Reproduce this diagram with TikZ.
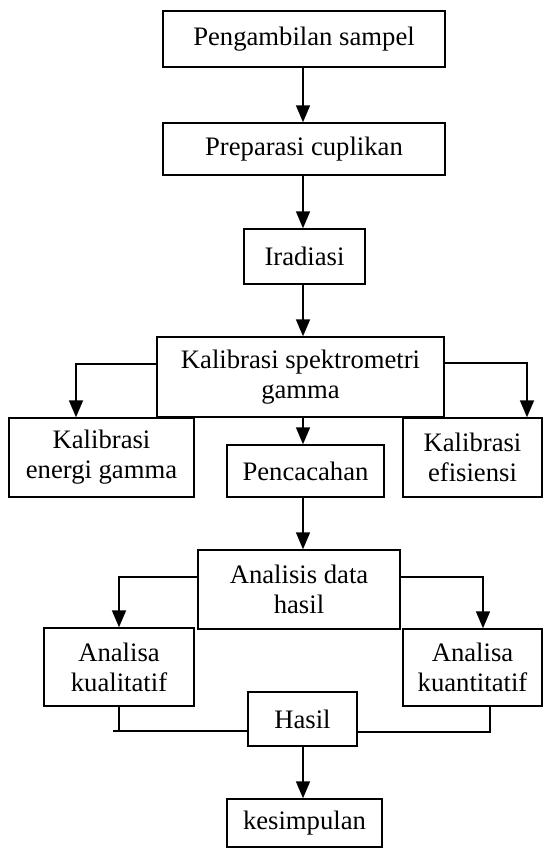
\documentclass[tikz,border=0pt]{standalone}
\usepackage{fontspec}
\setmainfont{Liberation Serif}
\usetikzlibrary{arrows.meta}
\begin{document}
\begin{tikzpicture}[x=0.75pt,y=-0.75pt,
  box/.style={draw,line width=1.1pt,align=center,inner sep=0pt,
    font=\fontsize{20}{22.5}\selectfont},
  arr/.style={line width=1.3pt,-{Triangle[length=12.75pt,width=10.5pt]}},
  ln/.style={line width=1.3pt}]
\useasboundingbox (0,0) rectangle (544,849);
\node[box,minimum width=211.5pt,minimum height=42pt] (p1) at (304,39) {Pengambilan sampel};
\node[box,minimum width=211.5pt,minimum height=39pt] (p2) at (304,149) {Preparasi cuplikan};
\node[box,minimum width=90.75pt,minimum height=41.25pt] (irad) at (304.5,256.5) {Iradiasi};
\node[box,minimum width=215.25pt,minimum height=60pt] (kspek) at (300.5,377) {Kalibrasi spektrometri\\gamma};
\node[box,minimum width=138.75pt,minimum height=59.25pt] (kener) at (101.5,457.5) {Kalibrasi\\energi gamma};
\node[box,minimum width=117.75pt,minimum height=39pt] (pcc) at (305.5,471) {Pencacahan};
\node[box,minimum width=104.25pt,minimum height=59.25pt] (kefi) at (472.5,457.5) {Kalibrasi\\efisiensi};
\node[box,minimum width=151.5pt,minimum height=59.25pt] (anl) at (299,589.5) {Analisis data\\hasil};
\node[box,minimum width=112.5pt,minimum height=58.5pt] (kual) at (119,667) {Analisa\\kualitatif};
\node[box,minimum width=104.25pt,minimum height=57.75pt] (kuan) at (472.5,667.5) {Analisa\\kuantitatif};
\node[box,minimum width=81.75pt,minimum height=40.5pt] (hasil) at (302.5,719) {Hasil};
\node[box,minimum width=116.25pt,minimum height=36pt] (kes) at (304.5,823) {kesimpulan};
% helper coordinates
\coordinate (cx) at (303,0);
\coordinate (kL) at (76,364);
\coordinate (kR) at (527,363);
\coordinate (aL) at (119,577);
\coordinate (aR) at (483,577);
\coordinate (hL) at (119,731);
\coordinate (hL0) at (113,731);
\coordinate (hR) at (490,732);
% connectors
\draw[arr] (p1.south -| cx) -- (p2.north -| cx);
\draw[arr] (p2.south -| cx) -- (irad.north -| cx);
\draw[arr] (irad.south -| cx) -- (kspek.north -| cx);
\draw[arr] (kspek.west |- kL) -| (kener.north -| kL);
\draw[arr] (kspek.east |- kR) -| (kefi.north -| kR);
\draw[arr] (kspek.south -| cx) -- (pcc.north -| cx);
\draw[arr] (pcc.south -| cx) -- (anl.north -| cx);
\draw[arr] (anl.west |- aL) -| (kual.north -| aL);
\draw[arr] (anl.east |- aR) -| (kuan.north -| aR);
\draw[ln] (kual.south -| hL) -- (hL);
\draw[ln] (hL0) -- (hasil.west |- hL);
\draw[ln] (kuan.south -| hR) -- (hR) -- (hasil.east |- hR);
\draw[arr] (hasil.south -| cx) -- (kes.north -| cx);
\end{tikzpicture}
\end{document}
